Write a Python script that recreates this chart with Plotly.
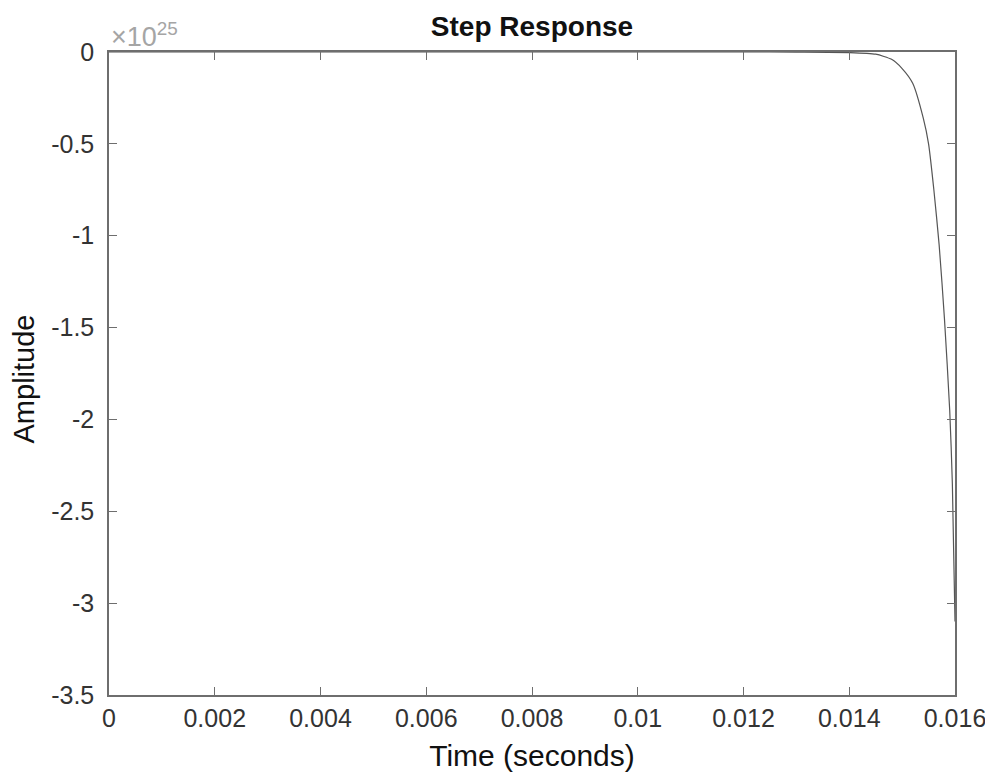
import plotly.graph_objects as go

# Step response data (amplitude in units of 1e25)
time_s = [0, 0.002, 0.004, 0.006, 0.008, 0.010, 0.012, 0.013, 0.0140, 0.0145,
          0.0148, 0.0150, 0.0152, 0.0154, 0.0155, 0.0156, 0.0157, 0.0158,
          0.0159, 0.01595, 0.0160]
amplitude_e25 = [0, 0, 0, 0, 0, 0, 0, -0.0005, -0.003, -0.012,
                 -0.04, -0.09, -0.17, -0.36, -0.50, -0.75, -1.05, -1.45,
                 -1.95, -2.35, -3.1]
SCALE = 1e25

x_ticks = [0, 0.002, 0.004, 0.006, 0.008, 0.010, 0.012, 0.014, 0.016]
x_ticktext = ["0", "0.002", "0.004", "0.006", "0.008", "0.01", "0.012", "0.014", "0.016"]
y_ticks = [0, -0.5, -1, -1.5, -2, -2.5, -3, -3.5]
y_ticktext = ["0", "-0.5", "-1", "-1.5", "-2", "-2.5", "-3", "-3.5"]

amplitude = [v * SCALE for v in amplitude_e25]

FONT = "Liberation Sans, Arial, sans-serif"
W, H = 985, 773  # page body has an 8px margin

fig = go.Figure()
fig.add_trace(go.Scatter(
    x=time_s, y=amplitude, mode="lines",
    line=dict(color="#555555", width=1.2, shape="spline", smoothing=0.6),
    showlegend=False, hoverinfo="skip",
))

axis_common = dict(
    showgrid=False, zeroline=False, showline=True, linecolor="#6e6e6e",
    linewidth=1.5, mirror="ticks", ticks="inside", ticklen=8,
    tickcolor="#6e6e6e", tickwidth=1, automargin=False,
    tickfont=dict(family=FONT, size=25, color="#333333"),
)

fig.update_layout(
    width=W, height=H,
    margin=dict(l=101, r=38, t=44, b=86),
    paper_bgcolor="white", plot_bgcolor="white",
    font=dict(family=FONT, color="#111111"),
    title=dict(text="<b>Step Response</b>", x=(101 + 947) / 2 / W, xanchor="center",
               y=1 - 18 / H, yanchor="middle", automargin=False,
               font=dict(family=FONT, size=28, color="#111111")),
    xaxis=dict(
        range=[0, 0.016], tickvals=x_ticks, ticktext=x_ticktext,
        title=dict(text="Time (seconds)", font=dict(family=FONT, size=30, color="#111111"),
                   standoff=14),
        **axis_common,
    ),
    yaxis=dict(
        range=[-3.5 * SCALE, 0], tickvals=[v * SCALE for v in y_ticks], ticktext=y_ticktext,
        ticklabelstandoff=8,
        **axis_common,
    ),
)

fig.add_annotation(
    text="Amplitude", xref="paper", yref="paper", x=0, y=0.5,
    xanchor="center", yanchor="middle", textangle=-90, showarrow=False,
    xshift=-86, yshift=-6,
    font=dict(family=FONT, size=29, color="#111111"),
)

fig.add_annotation(
    text="×10<sup>25</sup>", xref="paper", yref="paper", x=0, y=1,
    xanchor="left", yanchor="bottom", showarrow=False, xshift=0, yshift=-2,
    font=dict(family=FONT, size=27, color="#a5a5a5"),
)

fig.write_html("out.html")
